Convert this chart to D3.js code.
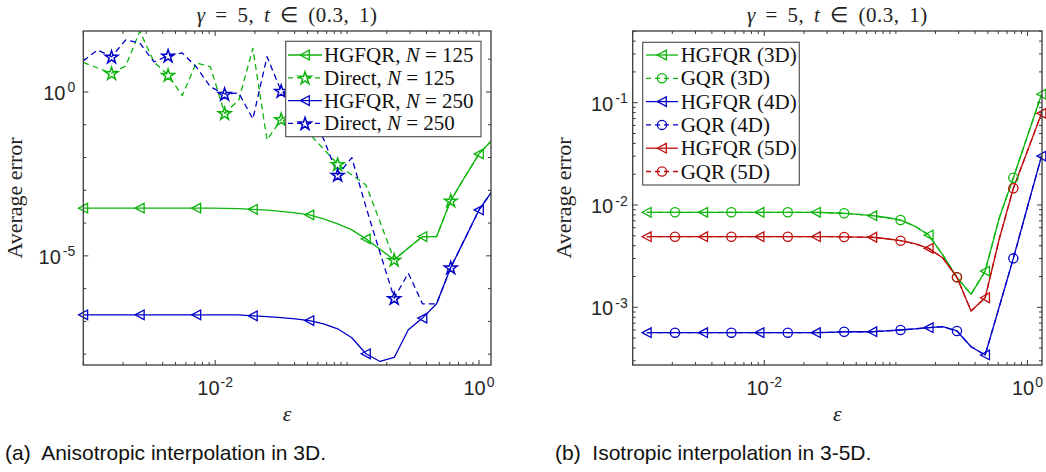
<!DOCTYPE html>
<html><head><meta charset="utf-8">
<script src="https://cdn.jsdelivr.net/npm/d3@7"></script>
<style>body{margin:0;background:#fff}svg{display:block}</style>
</head><body><svg id="c" width="1046" height="472"></svg>
<script>
// ---------- data ----------
// shape parameter grid (epsilon)
const eps = [0.001, 0.00128, 0.001638, 0.002096, 0.002683, 0.003434, 0.004394, 0.005623, 0.007197, 0.00921,
  0.011788, 0.015087, 0.019307, 0.024711, 0.031623, 0.040473, 0.051795, 0.06629, 0.084834, 0.10857,
  0.13895, 0.17783, 0.22758, 0.29126, 0.37276, 0.47705, 0.61054, 0.78137, 1.0, 1.2797];

// (a) anisotropic interpolation in 3D
const hgfqr125 = [2.85e-4, 2.85e-4, 2.85e-4, 2.85e-4, 2.85e-4, 2.85e-4, 2.85e-4, 2.85e-4, 2.85e-4, 2.84e-4,
  2.82e-4, 2.75e-4, 2.62e-4, 2.47e-4, 2.27e-4, 2.05e-4, 1.78e-4, 1.34e-4, 9.46e-5, 6.2e-5,
  3.3e-5, 1.58e-5, 7.55e-6, 1.75e-5, 3.87e-5, 3.87e-5, 4.85e-4, 2.56e-3, 1.29e-2, 3.69e-2];
const direct125 = [8.05, 5.39, 3.72, 6.21, 72, 8.22, 3.30, 0.771, 7.82, 5.78,
  0.224, 0.570, 21.5, 0.0344, 0.147, 0.283, 0.0524, 0.0183, 0.00625, 0.00295,
  0.00146, 1.09e-4, 7.55e-6, 1.75e-5, 3.87e-5, 3.87e-5, 4.85e-4, 2.56e-3, 1.29e-2, 3.69e-2];
const hgfqr250 = [1.59e-7, 1.59e-7, 1.59e-7, 1.59e-7, 1.59e-7, 1.59e-7, 1.59e-7, 1.59e-7, 1.59e-7, 1.59e-7,
  1.59e-7, 1.59e-7, 1.48e-7, 1.40e-7, 1.31e-7, 1.20e-7, 1.06e-7, 8.45e-8, 5.94e-8, 3.16e-8,
  1.03e-8, 5.99e-9, 7.93e-9, 5.54e-8, 1.26e-7, 3.44e-7, 4.39e-6, 3.30e-5, 2.52e-4, 1.03e-3];
const direct250 = [8.81, 19.1, 11.9, 38.5, 31.2, 8.22, 12.8, 15.5, 5.78, 1.42,
  0.869, 0.932, 0.150, 11.9, 1.07, 0.570, 0.199, 0.0369, 0.00295, 0.00993,
  3.12e-4, 1.23e-5, 5.13e-7, 2.97e-6, 3.44e-7, 3.44e-7, 4.39e-6, 3.30e-5, 2.52e-4, 1.03e-3];

// (b) isotropic interpolation in 3-5D
const epsIso = [0.00128, 0.001638, 0.002096, 0.002683, 0.003434, 0.004394, 0.005623, 0.007197, 0.00921,
  0.011788, 0.015087, 0.019307, 0.024711, 0.031623, 0.040473, 0.051795, 0.06629, 0.084834, 0.10857,
  0.13895, 0.17783, 0.22758, 0.29126, 0.37276, 0.47705, 0.61054, 0.78137, 1.0, 1.2797];
const hgfqr3D = [8.49e-3, 8.49e-3, 8.49e-3, 8.49e-3, 8.49e-3, 8.49e-3, 8.49e-3, 8.49e-3, 8.49e-3, 8.49e-3,
  8.49e-3, 8.49e-3, 8.49e-3, 8.40e-3, 8.30e-3, 8.11e-3, 7.86e-3, 7.55e-3, 7.13e-3, 6.23e-3,
  5.09e-3, 3.24e-3, 1.965e-3, 1.34e-3, 2.26e-3, 7.46e-3, 1.85e-2, 4.72e-2, 0.121];
const gqr3D = [8.49e-3, 8.49e-3, 8.49e-3, 8.49e-3, 8.49e-3, 8.49e-3, 8.49e-3, 8.49e-3, 8.49e-3, 8.49e-3,
  8.49e-3, 8.49e-3, 8.49e-3, 8.40e-3, 8.30e-3, 8.11e-3, 7.86e-3, 7.55e-3, 7.13e-3, 6.23e-3,
  5.09e-3, 3.24e-3, 1.965e-3, 1.34e-3, 2.26e-3, 7.46e-3, 1.85e-2, 4.72e-2, 0.121];
const hgfqr4D = [5.65e-4, 5.65e-4, 5.65e-4, 5.65e-4, 5.65e-4, 5.65e-4, 5.65e-4, 5.65e-4, 5.65e-4, 5.65e-4,
  5.65e-4, 5.65e-4, 5.65e-4, 5.70e-4, 5.77e-4, 5.77e-4, 5.77e-4, 5.88e-4, 6.0e-4, 6.15e-4,
  6.32e-4, 6.46e-4, 5.87e-4, 4.12e-4, 3.42e-4, 1.01e-3, 3.01e-3, 9.56e-3, 3.01e-2];
const gqr4D = [5.65e-4, 5.65e-4, 5.65e-4, 5.65e-4, 5.65e-4, 5.65e-4, 5.65e-4, 5.65e-4, 5.65e-4, 5.65e-4,
  5.65e-4, 5.65e-4, 5.65e-4, 5.70e-4, 5.77e-4, 5.77e-4, 5.77e-4, 5.88e-4, 6.0e-4, 6.15e-4,
  6.32e-4, 6.46e-4, 5.87e-4, 4.12e-4, 3.42e-4, 1.01e-3, 3.01e-3, 9.56e-3, 3.01e-2];
const hgfqr5D = [4.90e-3, 4.90e-3, 4.90e-3, 4.90e-3, 4.90e-3, 4.90e-3, 4.90e-3, 4.90e-3, 4.90e-3, 4.90e-3,
  4.90e-3, 4.90e-3, 4.90e-3, 4.90e-3, 4.87e-3, 4.86e-3, 4.84e-3, 4.68e-3, 4.48e-3, 4.20e-3,
  3.77e-3, 3.03e-3, 1.965e-3, 9.2e-4, 1.24e-3, 4.65e-3, 1.456e-2, 3.37e-2, 7.88e-2];
const gqr5D = [4.90e-3, 4.90e-3, 4.90e-3, 4.90e-3, 4.90e-3, 4.90e-3, 4.90e-3, 4.90e-3, 4.90e-3, 4.90e-3,
  4.90e-3, 4.90e-3, 4.90e-3, 4.90e-3, 4.87e-3, 4.86e-3, 4.84e-3, 4.68e-3, 4.48e-3, 4.20e-3,
  3.77e-3, 3.03e-3, 1.965e-3, 9.2e-4, 1.24e-3, 4.65e-3, 1.456e-2, 3.37e-2, 7.88e-2];

// tick labels (powers of ten that carry a label)
const xLabelPowersA = [-2, 0];
const yLabelPowersA = [0, -5];
const xLabelPowersB = [-2, 0];
const yLabelPowersB = [-1, -2, -3];

const legendA = ["HGFQR, |N| = 125", "Direct, |N| = 125", "HGFQR, |N| = 250", "Direct, |N| = 250"];
const legendB = ["HGFQR (3D)", "GQR (3D)", "HGFQR (4D)", "GQR (4D)", "HGFQR (5D)", "GQR (5D)"];

// ---------- styling ----------
const GREEN = "rgb(12,180,12)", BLUE = "rgb(0,0,200)", RED = "rgb(190,12,12)";
const SERIF = "'Liberation Serif', 'Times New Roman', serif";
const SANS = "'Liberation Sans', Arial, Helvetica, sans-serif";
const AX = "#3a3a3a";

const svg = d3.select("#c");

function triPath(s) { // left-pointing triangle marker
  return `M${-4.7*s},0 L${4.3*s},${-4.8*s} L${4.3*s},${4.8*s} Z`;
}
const starPath = d3.symbol().type(d3.symbolStar).size(50)();

function drawMarker(g, kind, x, y, color) {
  if (kind === "tri") {
    g.append("path").attr("d", triPath(1)).attr("transform", `translate(${x},${y})`)
      .attr("fill", "none").attr("stroke", color).attr("stroke-width", 1.3);
  } else if (kind === "star") {
    g.append("path").attr("d", starPath).attr("transform", `translate(${x},${y+0.6})`)
      .attr("fill", "none").attr("stroke", color).attr("stroke-width", 1.5);
  } else if (kind === "circ") {
    g.append("circle").attr("cx", x).attr("cy", y).attr("r", 4.6)
      .attr("fill", "none").attr("stroke", color).attr("stroke-width", 1.3);
  }
}

// text with |italic| segments
function richText(sel, str) {
  const parts = str.split("|");
  parts.forEach((p, i) => {
    if (!p) return;
    sel.append("tspan").text(p).attr("font-style", i % 2 ? "italic" : "normal");
  });
}

function panel(cfg) {
  const { left, right, top, bottom, xDomain, yDomain, id } = cfg;
  const x = d3.scaleLog().domain(xDomain).range([left, right]);
  const y = d3.scaleLog().domain(yDomain).range([bottom, top]);
  const g = svg.append("g");

  g.append("clipPath").attr("id", "clip" + id).append("rect")
    .attr("x", left).attr("y", top).attr("width", right - left).attr("height", bottom - top);

  // ticks (inside, on all four sides)
  const xt = x.ticks(); // decades plus 2..9 minor ticks
  const tg = g.append("g").attr("stroke", AX).attr("stroke-width", 1);
  xt.forEach(v => {
    if (v < xDomain[0] * 0.999 || v > xDomain[1]) return;
    const isMaj = cfg.xLabels.some(p => Math.abs(Math.log10(v) - p) < 1e-6);
    const L = isMaj ? 5 : 3;
    const px = x(v);
    tg.append("line").attr("x1", px).attr("x2", px).attr("y1", bottom).attr("y2", bottom - L);
    tg.append("line").attr("x1", px).attr("x2", px).attr("y1", top).attr("y2", top + L);
  });
  let yt;
  if (cfg.yMinor) yt = y.ticks();
  else yt = d3.range(Math.ceil(Math.log10(yDomain[0])), Math.floor(Math.log10(yDomain[1])) + 1).map(p => Math.pow(10, p));
  yt.forEach(v => {
    if (v < yDomain[0] || v > yDomain[1]) return;
    const isMaj = cfg.yLabels.some(p => Math.abs(Math.log10(v) - p) < 1e-6);
    const L = isMaj ? 5 : 3;
    const py = y(v);
    tg.append("line").attr("x1", left).attr("x2", left + L).attr("y1", py).attr("y2", py);
    tg.append("line").attr("x1", right).attr("x2", right - L).attr("y1", py).attr("y2", py);
  });

  // tick labels
  cfg.xLabels.forEach(p => {
    const t = g.append("text").attr("x", x(Math.pow(10, p))).attr("y", bottom + 30)
      .attr("text-anchor", "middle").attr("font-family", SANS).attr("font-size", 20).attr("fill", "#262626");
    t.append("tspan").text("10");
    t.append("tspan").text(String(p)).attr("font-size", 14).attr("dy", -8).attr("dx", 1);
  });
  cfg.yLabels.forEach(p => {
    const t = g.append("text").attr("x", left - cfg.yLabelGap).attr("y", y(Math.pow(10, p)) + 8)
      .attr("text-anchor", "end").attr("font-family", SANS).attr("font-size", 20).attr("fill", "#262626");
    t.append("tspan").text("10");
    t.append("tspan").text(String(p)).attr("font-size", 14).attr("dy", -7.5).attr("dx", 2);
  });

  // series
  const sg = g.append("g").attr("clip-path", `url(#clip${id})`);
  cfg.series.forEach(s => {
    const line = d3.line().x((d, i) => x(s.x[i])).y(d => y(d));
    sg.append("path").datum(s.y).attr("d", line).attr("fill", "none")
      .attr("stroke", s.color).attr("stroke-width", 1.3)
      .attr("stroke-dasharray", s.dash ? "6,4" : null).attr("stroke-linejoin", "round");
  });
  const mg = g.append("g");
  cfg.series.forEach(s => {
    s.y.forEach((v, i) => {
      if (i % 4 !== s.mOff) return;
      const xv = s.x[i];
      if (xv < xDomain[0] * 0.999 || xv > xDomain[1]) return;
      drawMarker(mg, s.marker, x(xv), y(v), s.color);
    });
  });

  // axes box
  g.append("rect").attr("x", left).attr("y", top).attr("width", right - left).attr("height", bottom - top)
    .attr("fill", "none").attr("stroke", AX).attr("stroke-width", 1.3);

  // title
  const tt = g.append("text").attr("x", (left + right) / 2).attr("y", top - 9)
    .attr("text-anchor", "middle").attr("font-family", SERIF).attr("font-size", 21).attr("fill", "#222")
    .attr("word-spacing", 4).attr("letter-spacing", 0.5);
  richText(tt, "|γ| = 5, |t| ∈ (0.3, 1)");

  // axis labels
  g.append("text").attr("transform", `translate(${cfg.yLabelX},${(top + bottom) / 2}) rotate(-90)`)
    .attr("text-anchor", "middle").attr("font-family", SERIF).attr("font-size", 22).attr("fill", "#222")
    .text("Average error");
  g.append("text").attr("x", (left + right) / 2).attr("y", bottom + 56)
    .attr("text-anchor", "middle").attr("font-family", SERIF).attr("font-style", "italic")
    .attr("font-size", 22).attr("fill", "#222").text("ε");

  // legend
  const lg = cfg.legend;
  g.append("rect").attr("x", lg.x0).attr("y", lg.y0).attr("width", lg.x1 - lg.x0).attr("height", lg.y1 - lg.y0)
    .attr("fill", "#fff").attr("stroke", "#555").attr("stroke-width", 1.2);
  cfg.series.forEach((s, i) => {
    const ry = lg.rowY0 + i * lg.rowDy;
    g.append("line").attr("x1", lg.lx0).attr("x2", lg.lx1).attr("y1", ry).attr("y2", ry)
      .attr("stroke", s.color).attr("stroke-width", 1.3).attr("stroke-dasharray", s.dash ? "5,4" : null);
    drawMarker(g, s.marker, (lg.lx0 + lg.lx1) / 2, ry, s.color);
    const t = g.append("text").attr("x", lg.tx).attr("y", ry + 7).attr("font-family", SERIF)
      .attr("font-size", lg.fs).attr("fill", "#111");
    richText(t, lg.labels[i]);
  });

  // caption
  g.append("text").attr("x", cfg.capX).attr("y", 460).attr("font-family", SANS).attr("font-size", 21)
    .attr("fill", "#111").style("white-space", "pre").text(cfg.caption);
}

panel({
  id: "A", left: 83.3, right: 491, top: 31, bottom: 365,
  xDomain: [1e-3, Math.pow(10, 0.091)], yDomain: [Math.pow(10, -8.33), Math.pow(10, 1.86)],
  xLabels: xLabelPowersA, yLabels: yLabelPowersA, yMinor: false, yLabelGap: 8, yLabelX: 22,
  series: [
    { x: eps, y: hgfqr125, color: GREEN, dash: false, marker: "tri", mOff: 0 },
    { x: eps, y: direct125, color: GREEN, dash: true, marker: "star", mOff: 2 },
    { x: eps, y: hgfqr250, color: BLUE, dash: false, marker: "tri", mOff: 0 },
    { x: eps, y: direct250, color: BLUE, dash: true, marker: "star", mOff: 2 }
  ],
  legend: { x0: 285.7, x1: 481, y0: 41.3, y1: 136.7, rowY0: 55, rowDy: 22.8, lx0: 288, lx1: 322, tx: 324, fs: 21, labels: legendA },
  capX: 5, caption: "(a)  Anisotropic interpolation in 3D."
});

panel({
  id: "B", left: 632.7, right: 1042, top: 31, bottom: 365,
  xDomain: [1e-3, 1.29], yDomain: [Math.pow(10, -3.564), Math.pow(10, -0.299)],
  xLabels: xLabelPowersB, yLabels: yLabelPowersB, yMinor: true, yLabelGap: 5, yLabelX: 571,
  series: [
    { x: epsIso, y: hgfqr3D, color: GREEN, dash: false, marker: "tri", mOff: 0 },
    { x: epsIso, y: gqr3D, color: GREEN, dash: true, marker: "circ", mOff: 2 },
    { x: epsIso, y: hgfqr4D, color: BLUE, dash: false, marker: "tri", mOff: 0 },
    { x: epsIso, y: gqr4D, color: BLUE, dash: true, marker: "circ", mOff: 2 },
    { x: epsIso, y: hgfqr5D, color: RED, dash: false, marker: "tri", mOff: 0 },
    { x: epsIso, y: gqr5D, color: RED, dash: true, marker: "circ", mOff: 2 }
  ],
  legend: { x0: 642.7, x1: 799.3, y0: 42.3, y1: 185, rowY0: 55, rowDy: 23.3, lx0: 646, lx1: 678, tx: 680.7, fs: 21, labels: legendB },
  capX: 555, caption: "(b)  Isotropic interpolation in 3-5D."
});
</script></body></html>
